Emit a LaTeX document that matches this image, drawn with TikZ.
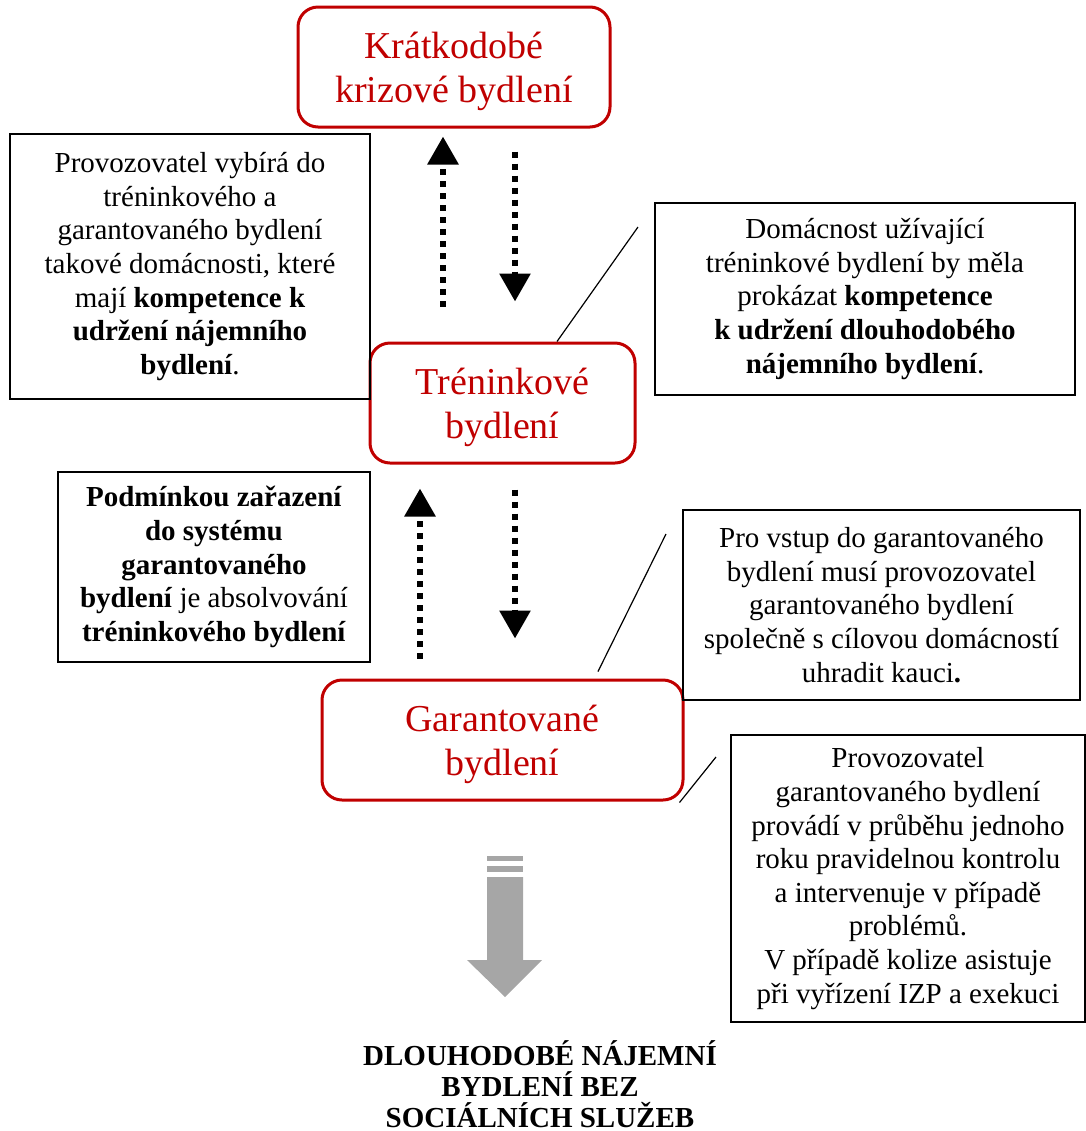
\documentclass[tikz,border=0pt]{standalone}
\usepackage{fontspec}
\setmainfont{Liberation Serif}
\usetikzlibrary{arrows.meta}
\definecolor{cervena}{RGB}{192,0,0}
\definecolor{seda}{RGB}{166,166,166}
\tikzset{
  stupen/.style={draw=cervena, line width=1.5pt, rounded corners=10pt, text=cervena,
    align=center, inner sep=0pt, font=\fontsize{19}{22}\selectfont},
  popis/.style={draw, line width=0.9pt, align=center, inner sep=0pt,
    font=\fontsize{14.5}{16.8}\selectfont},
  tecky/.style={line width=3pt, dash pattern=on 3pt off 3pt,
    -{Triangle[width=15pt,length=14pt]}},
  odkaz/.style={line width=0.6pt}
}

\begin{document}
\begin{tikzpicture}[x=0.5pt, y=-0.5pt]
    \useasboundingbox (0,0) rectangle (1086,1131);

    % stages of housing
    \node [stupen, minimum width=156pt, minimum height=60pt] (krizove) at (454,67)
      {\rule{0pt}{18pt}Krátkodobé\\krizové bydlení};
    \node [stupen, minimum width=132.5pt, minimum height=60pt] (trenink) at (502.5,403)
      {\rule{0pt}{18pt}Tréninkové\\bydlení};
    \node [stupen, minimum width=180.5pt, minimum height=60pt] (garant) at (502.5,740)
      {\rule{0pt}{18pt}Garantované\\bydlení};

    % notes
    \node [popis, minimum width=180pt, minimum height=132.5pt] (A) at (190,266.5)
      {Provozovatel vybírá do\\tréninkového a\\garantovaného bydlení\\takové domácnosti, které\\mají \textbf{kompetence k}\\\textbf{udržení nájemního}\\\textbf{bydlení}.};
    \node [popis, minimum width=210pt, minimum height=96pt] (B) at (865,299)
      {Domácnost užívající\\tréninkové bydlení by měla\\prokázat \textbf{kompetence}\\\textbf{k udržení dlouhodobého}\\\textbf{nájemního bydlení}.};
    \node [popis, minimum width=156pt, minimum height=95pt] (C) at (214,567)
      {\textbf{Podmínkou zařazení}\\\textbf{do systému}\\\textbf{garantovaného}\\\textbf{bydlení} je absolvování\\\textbf{tréninkového bydlení}};
    \node [popis, minimum width=198.5pt, minimum height=95pt] (D) at (881.5,605)
      {Pro vstup do garantovaného\\bydlení musí provozovatel\\garantovaného bydlení\\společně s cílovou domácností\\uhradit kauci\textbf{.}};
    \node [popis, minimum width=177pt, minimum height=143.5pt] (E) at (908,878.5)
      {Provozovatel\\garantovaného bydlení\\provádí v průběhu jednoho\\roku pravidelnou kontrolu\\a intervenuje v případě\\problémů.\\V případě kolize asistuje\\při vyřízení IZP a exekuci};

    % target
    \node [align=center, inner sep=0pt, font=\fontsize{14.5}{15.5}\selectfont\bfseries] (cil) at (540,1084)
      {DLOUHODOBÉ NÁJEMNÍ\\BYDLENÍ BEZ\\SOCIÁLNÍCH SLUŽEB};

    % dotted arrows
    \draw [tecky] ([xshift=-29.75pt,yshift=17.5pt]trenink.north) -- ([xshift=-5.5pt,yshift=-4pt]krizove.south);
    \draw [tecky] ([xshift=30.5pt,yshift=-11.5pt]krizove.south) -- ([xshift=6.25pt,yshift=20pt]trenink.north);
    \draw [tecky] ([xshift=-41.25pt,yshift=10pt]garant.north) -- ([xshift=-41.25pt,yshift=-12pt]trenink.south);
    \draw [tecky] ([xshift=6.25pt,yshift=-12.5pt]trenink.south) -- ([xshift=6.25pt,yshift=20pt]garant.north);

    % callout lines
    \coordinate (b) at (638,227);
    \coordinate (d) at (666,534);
    \coordinate (e) at (716,757);
    \draw [odkaz] ([xshift=27.25pt]trenink.north) -- (b);
    \draw [odkaz] ([xshift=47.75pt,yshift=3.5pt]garant.north) -- (d);
    \draw [odkaz] ([xshift=-2.5pt,yshift=-0.5pt]garant.south east) -- (e);

    % grey arrow
    \fill [seda] (487,856) rectangle (523,861);
    \fill [seda] (487,866) rectangle (523,872);
    \fill [seda] (487,877) -- (523,877) -- (523,960) -- (542,960)
      -- (505,997) -- (467,960) -- (487,960) -- cycle;
\end{tikzpicture}
\end{document}
